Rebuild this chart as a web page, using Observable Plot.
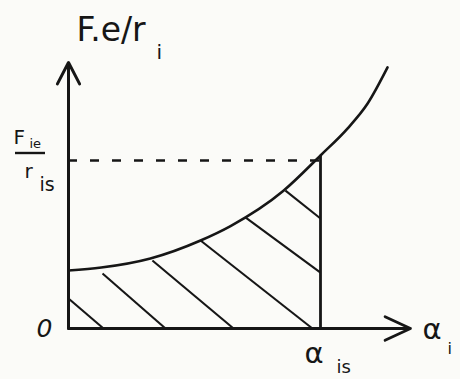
<!DOCTYPE html>
<html>
<head>
<meta charset="utf-8">
<script src="https://cdn.jsdelivr.net/npm/d3@7"></script>
<script src="https://cdn.jsdelivr.net/npm/@observablehq/plot@0.6"></script>
<style>
  html, body { margin: 0; padding: 0; background: #fbfbf8; }
  #chart svg { display: block; background: #fbfbf8; }
</style>
</head>
<body>
<div id="chart"></div>
<script>
// Normalised quantities: x = α_i / α_is, y = (F_ie/r_i) / (F_ie/r_is)
const curveX = [0, 0.13, 0.325, 0.524, 0.643, 0.853, 1, 1.107, 1.187, 1.266];
const curveY = [0.345, 0.363, 0.417, 0.524, 0.61, 0.82, 1.03, 1.19, 1.339, 1.554];

// Hatching strokes under the curve: [x1, y1, x2, y2]
const hatchX1 = [0, 0.135, 0.333, 0.524, 0.702, 0.861];
const hatchY1 = [0.179, 0.327, 0.405, 0.524, 0.661, 0.821];
const hatchX2 = [0.139, 0.385, 0.655, 0.968, 1, 1];
const hatchY2 = [0, 0, 0, 0, 0.333, 0.655];

// Reference values
const alphaIs = 1;        // α_is
const ratioIs = 1;        // F_ie / r_is
const xAxisEnd = 1.357;
const yAxisEnd = 1.583;

// Labels
const yTitle = "F.e/r";
const yTitleSub = "i";
const originLabel = "0";
const xAxisLabel = "α";
const xAxisSub = "i";
const alphaIsLabel = "α";
const alphaIsSub = "is";
const ratioNum = "F";
const ratioNumSub = "ie";
const ratioDen = "r";
const ratioDenSub = "is";

const curve = curveX.map((x, i) => ({x, y: curveY[i]}));
const hatch = hatchX1.map((x1, i) => ({x1, y1: hatchY1[i], x2: hatchX2[i], y2: hatchY2[i]}));
const yAtIs = curveY[curveX.indexOf(alphaIs)];

const ink = "#161616";
const font = "DejaVu Sans";

const txt = (text, x, y, o) => Plot.text([text], {
  x: () => x, y: () => y, text: d => d,
  fill: ink, fontFamily: font, lineAnchor: "bottom", textAnchor: "start", ...o
});

const plot = Plot.plot({
  width: 460,
  height: 379,
  marginLeft: 68,
  marginRight: 14,
  marginTop: 59.2,
  marginBottom: 51,
  x: {domain: [0, 1.5], axis: null},
  y: {domain: [0, 1.6], axis: null},
  style: {background: "#fbfbf8", overflow: "visible"},
  marks: [
    // hatched region
    Plot.link(hatch, {x1: "x1", y1: "y1", x2: "x2", y2: "y2", stroke: ink, strokeWidth: 2.1}),
    // dashed guide at F_ie/r_is
    Plot.ruleY([ratioIs], {x1: 0, x2: alphaIs, stroke: ink, strokeWidth: 2.6, strokeDasharray: "9,13"}),
    // vertical at α_is up to the curve
    Plot.ruleX([alphaIs], {y1: 0, y2: yAtIs, stroke: ink, strokeWidth: 2.8}),
    // the curve
    Plot.line(curve, {x: "x", y: "y", curve: "monotone-x", stroke: ink, strokeWidth: 2.6}),
    // axes with arrowheads
    Plot.arrow([{x1: 0, y1: 0, x2: 0, y2: yAxisEnd}], {
      x1: "x1", y1: "y1", x2: "x2", y2: "y2", stroke: ink, strokeWidth: 3, headLength: 12, headAngle: 55
    }),
    Plot.arrow([{x1: 0, y1: 0, x2: xAxisEnd, y2: 0}], {
      x1: "x1", y1: "y1", x2: "x2", y2: "y2", stroke: ink, strokeWidth: 2.8, headLength: 15, headAngle: 50
    }),
    // y axis title
    txt(yTitle, 0, 1.6, {dx: 8, dy: -19, fontSize: 33, letterSpacing: 2.5}),
    txt(yTitleSub, 0, 1.6, {dx: 88, dy: -1, fontSize: 20}),
    // origin
    txt(originLabel, 0, 0, {dx: -16, dy: 8, fontSize: 25, fontStyle: "italic", textAnchor: "end"}),
    // x axis label
    txt(xAxisLabel, xAxisEnd, 0, {dx: 12, dy: 10, fontSize: 29}),
    txt(xAxisSub, xAxisEnd, 0, {dx: 37, dy: 25, fontSize: 16}),
    // α_is under the vertical
    txt(alphaIsLabel, alphaIs, 0, {dx: -16, dy: 34, fontSize: 29}),
    txt(alphaIsSub, alphaIs, 0, {dx: 16, dy: 44, fontSize: 18, letterSpacing: 1}),
    // F_ie / r_is fraction at the dashed level
    txt(ratioNum, 0, ratioIs, {dx: -55, dy: -17, fontSize: 20}),
    txt(ratioNumSub, 0, ratioIs, {dx: -39, dy: -13, fontSize: 13}),
    txt(ratioDen, 0, ratioIs, {dx: -44, dy: 17, fontSize: 20}),
    txt(ratioDenSub, 0, ratioIs, {dx: -29, dy: 30, fontSize: 19, letterSpacing: 1})
  ]
});

// fraction bar between numerator and denominator
const sy = plot.scale("y").apply(ratioIs);
const sx = plot.scale("x").apply(0);
d3.select(plot).append("line")
  .attr("x1", sx - 53).attr("x2", sx - 23)
  .attr("y1", sy - 7).attr("y2", sy - 7)
  .attr("stroke", ink).attr("stroke-width", 2.4);

document.getElementById("chart").append(plot);
</script>
</body>
</html>
